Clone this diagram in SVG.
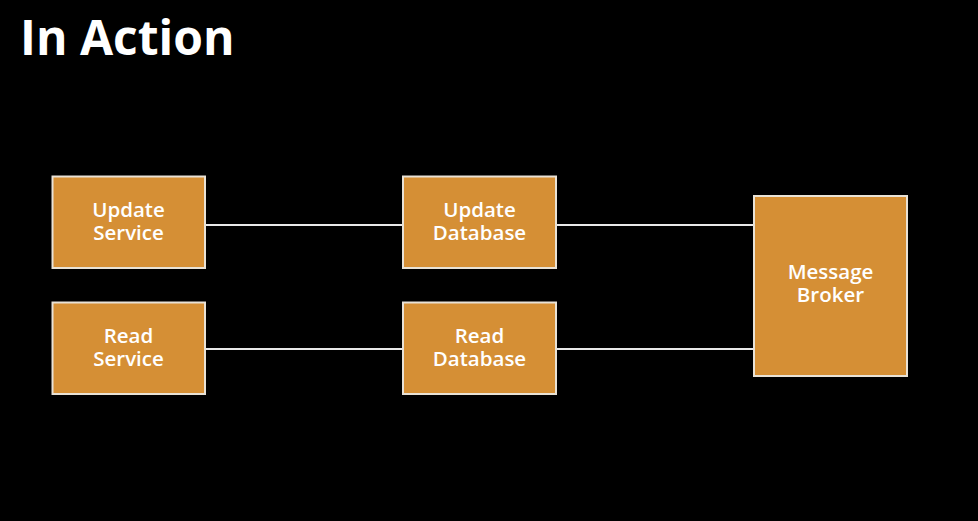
<svg xmlns="http://www.w3.org/2000/svg" width="978" height="521" viewBox="0 0 978 521">
<style>
.node rect{fill:#D58F35;stroke:#E9E2D6;stroke-width:2}
.node text{fill:#FFFFFF;font-family:"Open Sans",Lato,sans-serif;font-weight:600;font-size:20.5px;text-anchor:middle}
.conn line{stroke:#E8E8E8;stroke-width:2}
.title{fill:#FFFFFF;font-family:"Open Sans",Lato,sans-serif;font-weight:bold;font-size:48px}
</style>
<rect width="978" height="521" fill="#000000"/>
<text class="title" x="20" y="55">In Action</text>
<g id="connectors" class="conn">
<line x1="205" y1="225" x2="403" y2="225"/>
<line x1="556" y1="225" x2="754" y2="225"/>
<line x1="205" y1="349" x2="403" y2="349"/>
<line x1="556" y1="349" x2="754" y2="349"/>
</g>
<g id="update-service" class="node">
<rect x="52.5" y="176.5" width="152.5" height="91.5"/>
<text x="128.5" y="217">Update</text>
<text x="128.5" y="240">Service</text>
</g>
<g id="update-database" class="node">
<rect x="403" y="176.5" width="153" height="91.5"/>
<text x="479.5" y="217">Update</text>
<text x="479.5" y="240">Database</text>
</g>
<g id="read-service" class="node">
<rect x="52.5" y="302.5" width="152.5" height="91.5"/>
<text x="128.5" y="343">Read</text>
<text x="128.5" y="366">Service</text>
</g>
<g id="read-database" class="node">
<rect x="403" y="302.5" width="153" height="91.5"/>
<text x="479.5" y="343">Read</text>
<text x="479.5" y="366">Database</text>
</g>
<g id="message-broker" class="node">
<rect x="754" y="196" width="153" height="180"/>
<text x="830.5" y="279">Message</text>
<text x="830.5" y="302">Broker</text>
</g>
</svg>
